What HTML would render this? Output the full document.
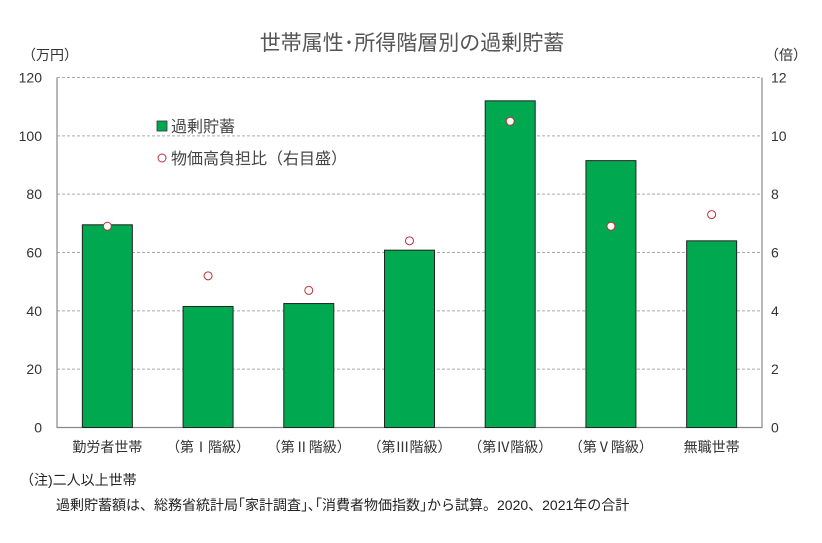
<!DOCTYPE html>
<html><head><meta charset="utf-8"><style>
body{margin:0;background:#fff;}
svg{display:block;font-family:"Liberation Sans","Noto Sans CJK JP",sans-serif;}
</style></head><body>
<svg id="chart" width="822" height="543" viewBox="0 0 822 543">
<text x="412" y="50" font-size="21" fill="#555" text-anchor="middle">世帯属性･所得階層別の過剰貯蓄</text>
<text x="22" y="60" font-size="14" fill="#333">（万円）</text>
<text x="765" y="60" font-size="14" fill="#333">（倍）</text>
<g id="grid"></g><g id="bars"></g><g id="dots"></g><g id="labels"></g>
<g>
<rect x="157" y="121" width="10" height="10" fill="#00a84f" stroke="#333" stroke-width="0.8"/>
<text x="171" y="132" font-size="16" fill="#444">過剰貯蓄</text>
<circle cx="162" cy="158" r="4" fill="#fff" stroke="#c0303a" stroke-width="1"/>
<text x="171" y="164" font-size="16" fill="#444">物価高負担比（右目盛）</text>
</g>
<text x="20" y="485" font-size="14" fill="#222">（注)二人以上世帯</text>
<text x="56" y="510" font-size="14" fill="#222">過剰貯蓄額は、総務省統計局｢家計調査｣､｢消費者物価指数｣から試算。2020、2021年の合計</text>
</svg>
<script>
const categories=["勤労者世帯","（第Ⅰ階級）","（第Ⅱ階級）","（第Ⅲ階級）","（第Ⅳ階級）","（第Ⅴ階級）","無職世帯"];
const savings=[69.5,41.5,42.5,60.8,112,91.5,64];
const ratio=[6.9,5.2,4.7,6.4,10.5,6.9,7.3];
const leftTicks=[0,20,40,60,80,100,120];
const rightTicks=[0,2,4,6,8,10,12];
const NS="http://www.w3.org/2000/svg";
const X0=57,X1=762,Y0=427.5,Y1=77.5;
const yL=v=>Y0-(v/120)*(Y0-Y1);
const yR=v=>Y0-(v/12)*(Y0-Y1);
const band=(X1-X0)/categories.length;
const xc=i=>X0+band*(i+0.5);
function mk(t,a,p){const e=document.createElementNS(NS,t);for(const k in a)e.setAttribute(k,a[k]);p.appendChild(e);return e;}
const g=document.getElementById('grid'),b=document.getElementById('bars'),d=document.getElementById('dots'),l=document.getElementById('labels');
leftTicks.forEach((v,i)=>{
 if(v>0){const ln=mk('line',{x1:X0,x2:X1,y1:yL(v),y2:yL(v),stroke:'#aaa','stroke-dasharray':'3,2','stroke-width':1},g);
 
 }
 const t=mk('text',{x:42,y:yL(v)+5,'font-size':14,fill:'#333','text-anchor':'end'},l);t.textContent=v;
 
 
});
rightTicks.forEach(v=>{
 const t=mk('text',{x:771,y:yR(v)+5,'font-size':14,fill:'#333'},l);t.textContent=v;
 
 
});
const ax=mk('path',{d:`M${X0},${Y1}V${Y0}H${X1}V${Y1}`,fill:'none',stroke:'#888','stroke-width':1.2},g);


savings.forEach((v,i)=>{
 const r=mk('rect',{x:xc(i)-25,y:yL(v),width:50,height:Y0-yL(v),fill:'#00a84f',stroke:'#222','stroke-width':1},b);
 
 
 const t=mk('text',{x:xc(i),y:452,'font-size':14,fill:'#333','text-anchor':'middle'},l);t.textContent=categories[i];
 
 
});
ratio.forEach((v,i)=>{
 const c=mk('circle',{cx:xc(i),cy:yR(v),r:4,fill:'#fff',stroke:'#c0303a','stroke-width':1},d);
 
 
});
</script>
</body></html>
